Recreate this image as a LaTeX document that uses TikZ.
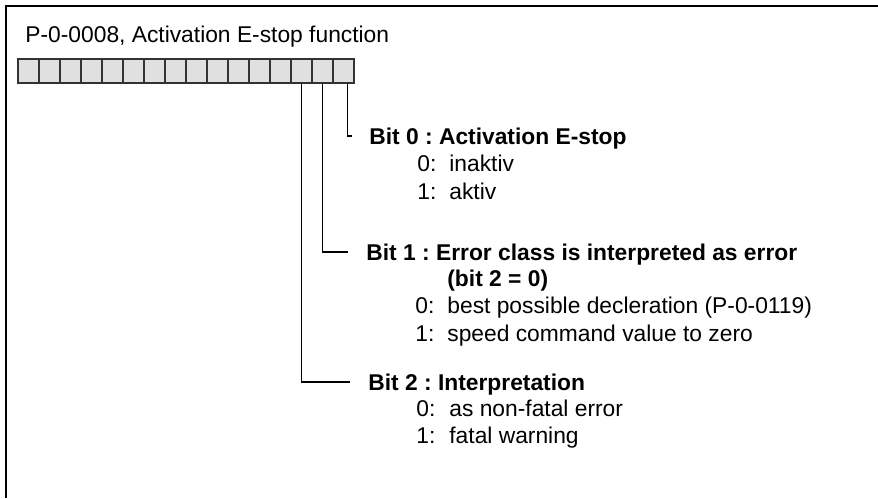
\documentclass[tikz,border=0pt]{standalone}
\usepackage{fontspec}
\setmainfont{Liberation Sans}
\frenchspacing
\begin{document}
\begin{tikzpicture}[x=0.5pt,y=-0.5pt,
    bitbox/.style={draw=black!80,fill=black!12,rectangle,minimum width=10.5pt,minimum height=12pt,inner sep=0pt,line width=0.6pt},
    txt/.style={anchor=west,inner sep=0pt,text height=8.2pt,text depth=0pt,font=\fontsize{11.4}{13}\selectfont},
    head/.style={txt,font=\fontsize{11.4}{13}\selectfont\bfseries},
    lead/.style={black,line width=0.55pt}]
        \useasboundingbox (0,0) rectangle (878,498);
        \draw[line width=1pt] (6,498) -- (6,6) -- (878,6);
        \node[txt] (title) at (25,34.5) {P-0-0008, Activation E-stop function};
        \foreach \i in {0,...,15}
            \node[bitbox] (b\i) at ({343.5-21*\i},71) {};
        \node[head] (h0) at (369,136) {Bit 0 : Activation E-stop};
        \node[txt] (n00) at (417,163) {0:};
        \node[txt] (v00) at (449,163) {inaktiv};
        \node[txt] (n01) at (417,191) {1:};
        \node[txt] (v01) at (449,191) {aktiv};
        \node[head] (h1) at (366,252) {Bit 1 : Error class is interpreted as error};
        \node[head] (h1b) at (447,278) {(bit 2 = 0)};
        \node[txt] (n10) at (415,305) {0:};
        \node[txt] (v10) at (447,305) {best possible decleration (P-0-0119)};
        \node[txt] (n11) at (415,333) {1:};
        \node[txt] (v11) at (447,333) {speed command value to zero};
        \node[head] (h2) at (368,382) {Bit 2 : Interpretation};
        \node[txt] (n20) at (416,408) {0:};
        \node[txt] (v20) at (449,408) {as non-fatal error};
        \node[txt] (n21) at (416,435) {1:};
        \node[txt] (v21) at (449,435) {fatal warning};
        \draw[lead] ([xshift=2pt]b0.south) |- ([xshift=-8.5pt]h0.west);
        \draw[lead] (b1.south) |- ([xshift=-9pt]h1.west);
        \draw[lead] (b2.south) |- ([xshift=-9pt]h2.west);
    \end{tikzpicture}
\end{document}
